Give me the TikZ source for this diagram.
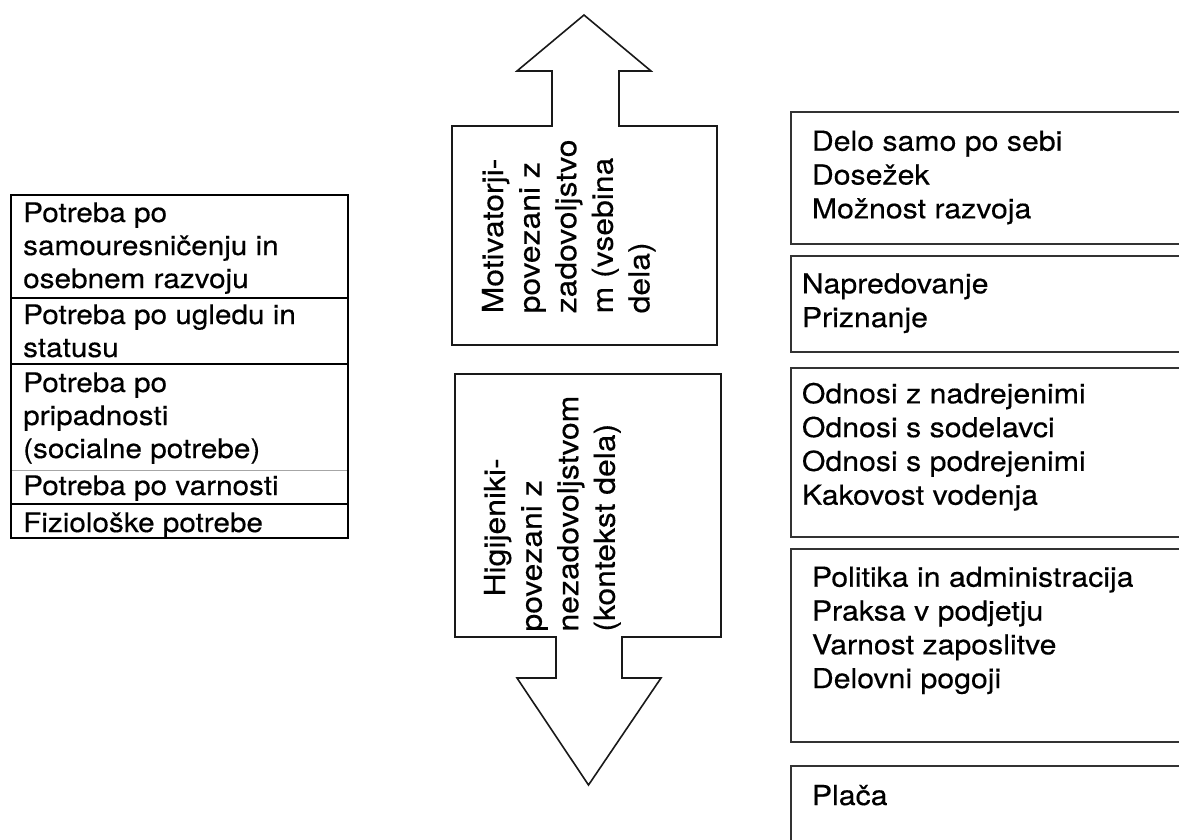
\documentclass[tikz,border=0pt]{standalone}
\usepackage{fontspec}
\setmainfont{TeX Gyre Heros}[FakeStretch=1.1, FakeBold=0.35]
\newcommand\stk[1]{\begin{tabular}[t]{@{}l@{}}#1\end{tabular}}
\tikzset{
  lefttxt/.style={anchor=base west, inner sep=0pt, font=\fontsize{27}{33}\selectfont},
  righttxt/.style={anchor=base west, inner sep=0pt, font=\fontsize{27.5}{33.8}\selectfont},
  rottxt/.style={anchor=base west, inner sep=0pt, rotate=90, font=\fontsize{29}{36.6}\selectfont},
  outerbox/.style={draw=black, line width=2.6pt},
  divider/.style={draw=black, line width=1.8pt},
  thindiv/.style={draw=black!35, line width=0.8pt},
  arrowshape/.style={draw=black!90, line width=1.6pt, fill=white},
  rbox/.style={draw=black!80, line width=2pt}
}
\begin{document}
\begin{tikzpicture}[x=1pt, y=-1pt]
\clip (0,0) rectangle (1179,839);
\fill[white] (0,0) rectangle (1179,839);

% left stack
\draw[divider] (11,298) -- (348,298);
\draw[divider] (11,364) -- (348,364);
\draw[thindiv] (11,470) -- (348,470);
\draw[divider] (11,504) -- (348,504);
\draw[outerbox] (11,195) rectangle (348,538);
\node[lefttxt] (l1) at (23,222) {\stk{Potreba po\\samouresničenju in\\osebnem razvoju}};
\node[lefttxt] (l2) at (23,324) {\stk{Potreba po ugledu in\\statusu}};
\node[lefttxt] (l3) at (23,392) {\stk{Potreba po\\pripadnosti\\(socialne potrebe)}};
\node[lefttxt] (l4) at (23,495) {\stk{Potreba po varnosti}};
\node[lefttxt] (l5) at (23,532) {\stk{Fiziološke potrebe}};

% up arrow
\draw[arrowshape] (452,345) -- (452,126) -- (552,126) -- (552,71) -- (517,71) -- (584,15)
  -- (651,71) -- (619,71) -- (619,126) -- (717,126) -- (717,345) -- cycle;
\node[rottxt] (mot) at (503,313.5) {\stk{Motivatorji-\\povezani z\\zadovoljstvo\\m (vsebina\\dela)}};

% down arrow
\draw[arrowshape] (455,374) -- (721,374) -- (721,637) -- (622,637) -- (622,678) -- (661,678)
  -- (588.5,785) -- (517,678) -- (556,678) -- (556,637) -- (455,637) -- cycle;
\node[rottxt] (hig) at (505,631.7) {\stk{\hspace*{35pt}Higijeniki-\\povezani z\\nezadovoljstvom\\(kontekst dela)}};

% right boxes
\draw[rbox] (1190,111.7) -- (790.7,111.7) -- (790.7,244) -- (1190,244);
\draw[rbox] (1190,255.7) -- (790.7,255.7) -- (790.7,351.7) -- (1190,351.7);
\draw[rbox] (1190,368.3) -- (790.7,368.3) -- (790.7,536.7) -- (1190,536.7);
\draw[rbox] (1190,549.3) -- (790.7,549.3) -- (790.7,741.7) -- (1190,741.7);
\draw[rbox] (1190,766) -- (790.7,766) -- (790.7,850);
\node[righttxt] (r1) at (811.7,150.7) {\stk{Delo samo po sebi\\Dosežek\\Možnost razvoja}};
\node[righttxt] (r2) at (801.7,293.3) {\stk{Napredovanje\\Priznanje}};
\node[righttxt] (r3) at (801.7,403.3) {\stk{Odnosi z nadrejenimi\\Odnosi s sodelavci\\Odnosi s podrejenimi\\Kakovost vodenja}};
\node[righttxt] (r4) at (811.7,586.7) {\stk{Politika in administracija\\Praksa v podjetju\\Varnost zaposlitve\\Delovni pogoji}};
\node[righttxt] (r5) at (811.7,805) {\stk{Plača}};
\end{tikzpicture}
\end{document}
